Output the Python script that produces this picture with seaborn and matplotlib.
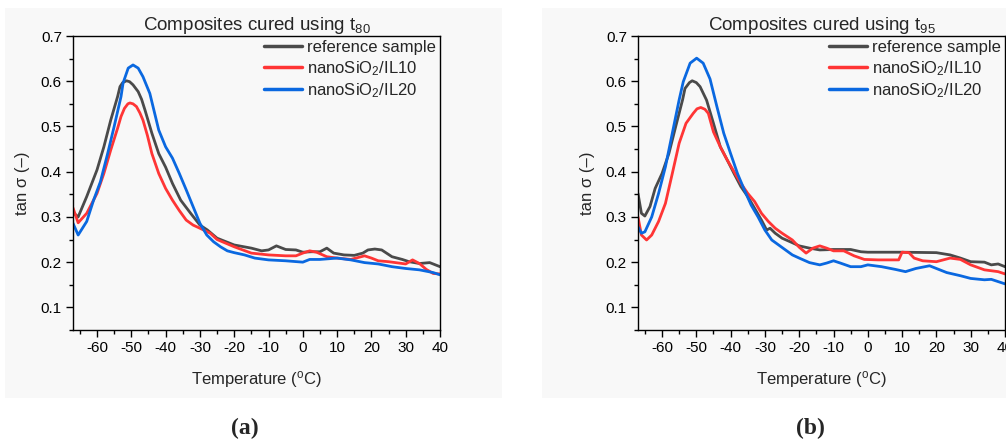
import numpy as np
import pandas as pd
import matplotlib
matplotlib.use("Agg")
import matplotlib.pyplot as plt
from matplotlib.patches import Rectangle
from matplotlib.ticker import MultipleLocator
import seaborn as sns

# ---------------- data ----------------
series_names = ["reference sample", "nanoSiO$_2$/IL10", "nanoSiO$_2$/IL20"]
colors = ["#4a4a4a", "#ff3535", "#0a68e0"]

# Panel (a): t80
a_ref_T = [-67, -65.5, -63, -60, -58, -56, -54, -53.3, -52.5, -51.4, -50.5, -49.5, -48, -47, -46, -44, -42, -40, -38, -35.6, -32.7, -30, -27.8, -25, -20, -15, -12, -10, -7.7, -5, -2, 0, 2.5, 5, 7, 9, 12, 15, 17.5, 19, 21, 23, 26, 29, 31, 34, 37, 40]
a_ref_v = [0.31, 0.30, 0.345, 0.404, 0.455, 0.514, 0.566, 0.588, 0.597, 0.601, 0.599, 0.592, 0.577, 0.56, 0.536, 0.485, 0.44, 0.41, 0.374, 0.337, 0.308, 0.282, 0.271, 0.253, 0.238, 0.231, 0.225, 0.227, 0.236, 0.228, 0.227, 0.222, 0.223, 0.223, 0.231, 0.22, 0.216, 0.215, 0.22, 0.227, 0.229, 0.227, 0.212, 0.206, 0.201, 0.197, 0.199, 0.19]
a_il10_T = [-67, -65.5, -63, -60, -58, -56, -54, -53, -52, -51, -50.4, -49.5, -48.5, -47.5, -46.6, -45.3, -44, -42, -40, -38, -36, -34, -32, -30, -27, -25, -20, -15, -10, -5, -2, 0, 2, 4, 7, 10, 14, 18, 20, 22, 25, 30, 32, 34, 36, 38, 40]
a_il10_v = [0.32, 0.287, 0.308, 0.352, 0.396, 0.448, 0.496, 0.522, 0.540, 0.550, 0.552, 0.550, 0.544, 0.530, 0.514, 0.48, 0.44, 0.396, 0.363, 0.337, 0.314, 0.293, 0.282, 0.275, 0.264, 0.25, 0.234, 0.22, 0.216, 0.214, 0.214, 0.22, 0.225, 0.222, 0.212, 0.209, 0.206, 0.214, 0.209, 0.203, 0.201, 0.196, 0.205, 0.197, 0.184, 0.175, 0.174]
a_il20_T = [-67, -65.5, -63, -61, -59, -57, -55, -53, -52.4, -50.9, -49.5, -48, -46.6, -44.6, -42, -40, -38, -36, -34, -32, -30, -28, -26, -24, -22, -20, -17, -14, -10, -5, 0, 2, 5, 10, 14, 18, 22, 26, 30, 34, 38, 40]
a_il20_v = [0.286, 0.26, 0.29, 0.337, 0.378, 0.437, 0.5, 0.566, 0.596, 0.629, 0.636, 0.629, 0.61, 0.573, 0.492, 0.455, 0.43, 0.396, 0.36, 0.323, 0.286, 0.26, 0.245, 0.234, 0.225, 0.221, 0.216, 0.209, 0.205, 0.203, 0.2, 0.206, 0.206, 0.209, 0.205, 0.199, 0.196, 0.19, 0.186, 0.183, 0.177, 0.172]

# Panel (b): t95
b_ref_T = [-67, -66, -65, -63.5, -62, -60, -58, -56, -54, -53.3, -52, -51.2, -50, -48.9, -47, -45, -43, -41, -39, -37, -35, -33, -31, -29.5, -28.5, -27, -25, -22, -20, -17, -14, -10, -5, -2, 0, 10, 20, 24, 27, 30, 34, 36, 38, 40]
b_ref_v = [0.352, 0.308, 0.302, 0.323, 0.363, 0.396, 0.44, 0.5, 0.559, 0.584, 0.597, 0.601, 0.597, 0.588, 0.558, 0.507, 0.455, 0.426, 0.396, 0.367, 0.345, 0.319, 0.293, 0.271, 0.275, 0.264, 0.253, 0.243, 0.236, 0.231, 0.227, 0.228, 0.228, 0.223, 0.222, 0.222, 0.221, 0.216, 0.209, 0.201, 0.2, 0.194, 0.196, 0.19]
b_il10_T = [-67, -66, -64.5, -63, -61, -59, -57, -55, -53, -50.9, -49.8, -48.7, -47.5, -46.5, -45, -43, -41, -39, -37, -35, -33, -31, -29, -27, -25, -22, -20, -18, -16, -14, -12, -10, -7, -4, -1, 3, 9, 10, 12, 13.5, 16, 20, 24, 27, 30, 34, 38, 40]
b_il10_v = [0.3, 0.26, 0.249, 0.26, 0.29, 0.33, 0.396, 0.463, 0.507, 0.529, 0.539, 0.542, 0.538, 0.529, 0.488, 0.455, 0.426, 0.4, 0.374, 0.352, 0.334, 0.308, 0.29, 0.275, 0.264, 0.249, 0.233, 0.22, 0.231, 0.236, 0.231, 0.225, 0.225, 0.214, 0.206, 0.205, 0.205, 0.222, 0.221, 0.209, 0.203, 0.201, 0.209, 0.206, 0.194, 0.183, 0.179, 0.174]
b_il20_T = [-67, -66, -65, -63, -61, -59, -57, -55, -53.8, -51.8, -49.9, -48, -46, -44, -42, -40, -38, -36, -34, -32, -30, -28, -26, -24, -22, -20, -17, -14, -12, -10, -8, -5, -2, 0, 4, 8, 11, 14, 18, 20, 23, 27, 30, 34, 36, 38, 40]
b_il20_v = [0.278, 0.264, 0.267, 0.3, 0.352, 0.411, 0.485, 0.559, 0.599, 0.640, 0.651, 0.640, 0.605, 0.544, 0.485, 0.44, 0.396, 0.36, 0.326, 0.3, 0.271, 0.249, 0.238, 0.227, 0.216, 0.209, 0.199, 0.194, 0.198, 0.203, 0.198, 0.19, 0.19, 0.194, 0.19, 0.184, 0.179, 0.186, 0.192, 0.186, 0.177, 0.17, 0.164, 0.161, 0.162, 0.157, 0.152]

titles = ["Composites cured using t$_{80}$", "Composites cured using t$_{95}$"]
panel_labels = ["(a)", "(b)"]
x_ticks = [-60, -50, -40, -30, -20, -10, 0, 10, 20, 30, 40]
y_ticks = [0.1, 0.2, 0.3, 0.4, 0.5, 0.6, 0.7]

def make_df(T_lists, v_lists):
    frames = []
    for name, T, v in zip(series_names, T_lists, v_lists):
        frames.append(pd.DataFrame({"T": T, "v": v, "series": name}))
    return pd.concat(frames, ignore_index=True)

df_a = make_df([a_ref_T, a_il10_T, a_il20_T], [a_ref_v, a_il10_v, a_il20_v])
df_b = make_df([b_ref_T, b_il10_T, b_il20_T], [b_ref_v, b_il10_v, b_il20_v])

# ---------------- style ----------------
sns.set_theme(style="ticks")
plt.rcParams["font.family"] = ["Liberation Sans", "DejaVu Sans"]
plt.rcParams["mathtext.fontset"] = "custom"
plt.rcParams["mathtext.rm"] = "Liberation Sans"
plt.rcParams["mathtext.it"] = "Liberation Sans"
plt.rcParams["axes.unicode_minus"] = False

W, H = 1006, 443
fig = plt.figure(figsize=(W / 100, H / 100), dpi=100)
fig.patch.set_facecolor("white")

bg = "#f8f8f8"
for (x0, x1) in [(5, 502), (542, 1006)]:
    fig.patches.append(Rectangle((x0 / W, 1 - 398 / H), (x1 - x0) / W, (398 - 8) / H,
                                 transform=fig.transFigure, facecolor=bg,
                                 edgecolor="none", zorder=-10))

axes_px = [(73, 440), (638, 1005)]
label_x = [245, 810]
for i, (df, (xl, xr)) in enumerate(zip([df_a, df_b], axes_px)):
    ax = fig.add_axes([xl / W, 1 - 330 / H, (xr - xl) / W, (330 - 36) / H])
    ax.set_facecolor(bg)
    sns.lineplot(data=df, x="T", y="v", hue="series", palette=colors,
                 hue_order=series_names, sort=False, estimator=None,
                 linewidth=2.0, ax=ax)
    ax.set_xlim(-67, 40)
    ax.set_ylim(0.05, 0.7)
    ax.set_xticks(x_ticks)
    ax.set_yticks(y_ticks)
    ax.set_yticklabels([f"{t:.1f}" for t in y_ticks])
    ax.xaxis.set_minor_locator(MultipleLocator(5))
    ax.yaxis.set_minor_locator(MultipleLocator(0.05))
    ax.tick_params(which="major", direction="out", length=5, width=1,
                   labelsize=11, color="black", labelcolor="black", pad=3)
    ax.tick_params(which="minor", direction="out", length=3, width=1, color="black")
    for s in ax.spines.values():
        s.set_visible(True)
        s.set_linewidth(1.0)
        s.set_color("black")
    ax.set_xlabel("Temperature ($^{\\mathrm{o}}$C)", fontsize=12, labelpad=10)
    ax.set_ylabel("tan σ (–)", fontsize=12, labelpad=8)
    ax.set_title(titles[i], fontsize=13.5, pad=3)
    leg = ax.legend(loc="upper right", frameon=False, fontsize=12,
                    handlelength=2.3, handletextpad=0.3, labelspacing=0.22,
                    borderaxespad=0.05, borderpad=0.2)
    for line in leg.get_lines():
        line.set_linewidth(2.5)
    fig.text(label_x[i] / W, 1 - 428 / H, panel_labels[i], ha="center", va="center",
             fontsize=17, fontweight="bold", family=["Liberation Serif", "DejaVu Serif"])

fig.savefig("out.png", dpi=100)
